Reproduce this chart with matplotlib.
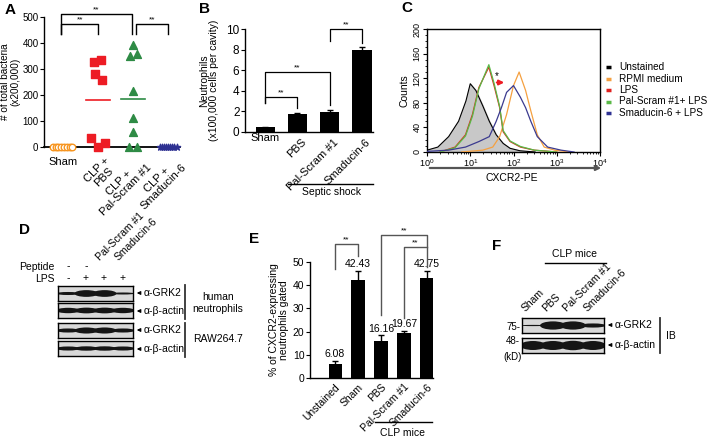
import matplotlib
matplotlib.use("Agg")
import matplotlib.pyplot as plt
import numpy as np
from matplotlib.patches import Ellipse

plt.rcParams['font.family'] = ['Liberation Sans', 'DejaVu Sans']
plt.rcParams['axes.linewidth'] = 1.0

W, H = 709, 447
fig = plt.figure(figsize=(W / 100, H / 100), dpi=100)


def axpx(x0, y0, x1, y1):
    return fig.add_axes([x0 / W, 1 - y1 / H, (x1 - x0) / W, (y1 - y0) / H])


# ---------------- data ----------------
# Panel A
a_groups = ["Sham", "CLP +\nPBS", "CLP +\nPal-Scram #1", "CLP +\nSmaducin-6"]
a_sham = [0, 0, 0, 0, 0, 0, 0, 0]
a_sham_dx = [-0.3, -0.22, -0.14, -0.06, 0.02, 0.1, 0.18, 0.26]
a_pbs = [327, 333, 282, 256, 35, 0, 15]
a_pbs_dx = [-0.11, 0.08, -0.1, 0.1, -0.21, 0.0, 0.2]
a_pal = [391, 349, 359, 215, 111, 58, 0, 0]
a_pal_dx = [0.0, -0.1, 0.1, 0.0, 0.0, 0.0, -0.12, 0.12]
a_sma = [0, 0, 0, 0, 0, 0, 0, 0, 0]
a_sma_dx = [-0.24, -0.18, -0.12, -0.06, 0.0, 0.06, 0.12, 0.18, 0.24]
a_pbs_mean = 180
a_pal_mean = 186

# Panel B
b_groups = ["Sham", "PBS", "Pal-Scram #1", "Smaducin-6"]
b_vals = [0.45, 1.7, 1.9, 8.0]
b_err = [0.08, 0.15, 0.25, 0.3]

# Panel C (log10 CXCR2-PE, counts)
c_unst_x = [0.0, 0.25, 0.5, 0.73, 0.9, 1.0, 1.13, 1.29, 1.44, 1.6, 1.76, 1.92, 2.15, 2.5]
c_unst_y = [3, 8, 25, 50, 83, 111, 100, 75, 50, 28, 14, 6, 2, 0]
c_lps_x = [0.3, 0.65, 0.89, 1.05, 1.2, 1.43, 1.55, 1.68, 1.76, 1.92, 2.16, 2.48, 3.0]
c_lps_y = [0, 8, 28, 61, 105, 138, 108, 72, 33, 17, 8, 3, 0]
c_pal_x = [0.3, 0.65, 0.89, 1.05, 1.2, 1.43, 1.55, 1.68, 1.76, 1.92, 2.16, 2.48, 3.0]
c_pal_y = [0, 7, 26, 58, 103, 142, 112, 74, 35, 18, 9, 3, 0]
c_rpmi_x = [0.8, 1.29, 1.52, 1.68, 1.84, 2.0, 2.13, 2.28, 2.4, 2.55, 2.71, 2.95, 3.3]
c_rpmi_y = [0, 3, 8, 25, 61, 108, 130, 100, 67, 28, 8, 3, 0]
c_sma_x = [0.0, 0.5, 0.89, 1.2, 1.44, 1.6, 1.72, 1.84, 2.0, 2.16, 2.28, 2.4, 2.55, 2.79, 3.1, 3.4]
c_sma_y = [1, 3, 8, 17, 25, 50, 72, 97, 108, 89, 72, 50, 25, 8, 3, 0]
c_legend = ["Unstained", "RPMI medium", "LPS", "Pal-Scram #1+ LPS", "Smaducin-6 + LPS"]

# Panel D (relative band intensity per lane)
d_grk2_h = [0.45, 1.0, 1.0, 0.3]
d_actin_h = [0.8, 0.85, 0.85, 0.8]
d_grk2_r = [0.6, 0.9, 0.9, 0.6]
d_actin_r = [0.6, 0.65, 0.65, 0.6]
d_peptide = ["-", "-"]
d_lps = ["-", "+", "+", "+"]

# Panel E
e_groups = ["Unstained", "Sham", "PBS", "Pal-Scram #1", "Smaducin-6"]
e_vals = [6.08, 42.43, 16.16, 19.67, 42.75]
e_bar = [6.08, 42.43, 16.16, 19.2, 43.3]
e_err = [1.3, 3.6, 2.2, 1.0, 3.0]

# Panel F
f_grk2 = [0.15, 1.0, 1.0, 0.5]
f_actin = [1.0, 1.0, 1.05, 1.0]
f_groups = ["Sham", "PBS", "Pal-Scram #1", "Smaducin-6"]

ORANGE = "#f7941d"
RED = "#ed1c24"
GREEN = "#2e8b45"
NAVY = "#2e3192"
FS = 7

# ---------------- Panel A ----------------
axA = axpx(44, 17, 180, 147)
axA.set_xlim(-0.55, 3.34)
axA.set_ylim(0, 500)
x = np.arange(4)
axA.scatter(x[0] + np.array(a_sham_dx), a_sham, s=22, facecolors="white",
            edgecolors=ORANGE, linewidths=1.0, zorder=3, clip_on=False)
axA.scatter(x[1] + np.array(a_pbs_dx), a_pbs, s=28, marker="s", color=RED, zorder=3, clip_on=False)
axA.scatter(x[2] + np.array(a_pal_dx), a_pal, s=32, marker="^", color=GREEN, zorder=3, clip_on=False)
axA.scatter(x[3] + np.array(a_sma_dx), a_sma, s=22, marker="*", color=NAVY, zorder=3, clip_on=False)
axA.plot([x[1] - 0.35, x[1] + 0.35], [a_pbs_mean] * 2, color=RED, lw=1.2)
axA.plot([x[2] - 0.35, x[2] + 0.35], [a_pal_mean] * 2, color=GREEN, lw=1.2)
for xa, xb, yt, yb in [(-0.06, 1.0, 474, 433), (-0.06, 1.97, 512, 433), (2.09, 3.0, 474, 433)]:
    axA.plot([xa, xa, xb, xb], [yb, yt, yt, yb], color="black", lw=1.0, clip_on=False)
    axA.text((xa + xb) / 2, yt + 2, "**", ha="center", va="bottom", fontsize=6, clip_on=False)
axA.spines["top"].set_visible(False)
axA.spines["right"].set_visible(False)
axA.spines["bottom"].set_linewidth(1.3)
axA.set_yticks([0, 100, 200, 300, 400, 500])
axA.set_xticks([])
axA.tick_params(axis="y", labelsize=7, length=3, pad=1)
axA.set_ylabel("# of total bacteria\n(x200,000)", fontsize=7.2, linespacing=1.0)
axA.yaxis.set_label_coords(-0.175, 0.5)

# ---------------- Panel B ----------------
axB = axpx(245, 29, 373, 132)
axB.set_xlim(-0.62, 3.34)
axB.set_ylim(0, 10)
xb = np.arange(4)
axB.bar(xb, b_vals, width=0.59, color="black", yerr=b_err, capsize=2.5,
        error_kw=dict(elinewidth=1, capthick=1))
for xa, xbb, yt, ya, yb2 in [(0, 1, 3.4, 2.8, 2.3), (0, 2, 5.8, 2.8, 2.6), (2, 3, 10.0, 8.8, 8.6)]:
    axB.plot([xa, xa, xbb, xbb], [ya, yt, yt, yb2], color="black", lw=0.9, clip_on=False)
    axB.text((xa + xbb) / 2, yt + 0.1, "**", ha="center", va="bottom", fontsize=6, clip_on=False)
axB.spines["top"].set_visible(False)
axB.spines["right"].set_visible(False)
axB.set_yticks([0, 2, 4, 6, 8, 10])
axB.set_xticks([])
axB.tick_params(axis="y", labelsize=8.5, length=3, pad=1)
axB.set_ylabel("Neutrophils\n(x100,000 cells per cavity)", fontsize=FS + 0.5, linespacing=1.0)
axB.yaxis.set_label_coords(-0.2, 0.5)

# ---------------- Panel C ----------------
axC = axpx(427, 29, 600, 152)
axC.set_xscale("log")
axC.set_xlim(1, 1e4)
axC.set_ylim(0, 200)
tx = lambda v: 10 ** np.array(v)
axC.fill_between(tx(c_unst_x), c_unst_y, color="#c8c8c8", zorder=1)
axC.plot(tx(c_unst_x), c_unst_y, color="black", lw=0.8, zorder=2)
axC.plot(tx(c_rpmi_x), c_rpmi_y, color="#f5a040", lw=0.9, zorder=3)
axC.plot(tx(c_lps_x), c_lps_y, color="#d9301e", lw=0.9, zorder=3)
axC.plot(tx(c_pal_x), c_pal_y, color="#5ab947", lw=0.9, zorder=3)
axC.plot(tx(c_sma_x), c_sma_y, color="#3b3a8f", lw=0.9, zorder=4)
axC.annotate("", xy=(10 ** 1.85, 113), xytext=(10 ** 1.55, 113),
             arrowprops=dict(arrowstyle="-|>", color=RED, lw=1.5, mutation_scale=7))
axC.text(10 ** 1.62, 116, "*", fontsize=7, ha="center", va="bottom")
axC.set_yticks([0, 40, 80, 120, 160, 200])
axC.set_yticks(np.arange(0, 201, 10), minor=True)
axC.tick_params(axis="y", labelsize=6.5, length=3, pad=1, labelrotation=90)
axC.tick_params(axis="y", which="minor", length=1.5)
for lbl in axC.get_yticklabels():
    lbl.set_va("center")
axC.tick_params(axis="x", labelsize=6.5, length=3, pad=1)
axC.tick_params(axis="x", which="minor", length=1.5)
axC.set_ylabel("Counts", fontsize=FS + 0.5, labelpad=2)

# ---------------- blots ----------------
def blot(x0, y0, x1, y1, vals, thick=0.45, color="#151515"):
    ax = axpx(x0, y0, x1, y1)
    n = len(vals)
    ax.set_xlim(-0.55, n - 0.45)
    ax.set_ylim(0, 1)
    ax.set_facecolor("#d8d8d8")
    for i, v in enumerate(vals):
        ax.add_patch(Ellipse((i, 0.5), 1.3, thick * v, color=color, lw=0))
    ax.set_xticks([])
    ax.set_yticks([])
    for s in ax.spines.values():
        s.set_linewidth(1.0)
    return ax

blot(58, 286, 133, 301, d_grk2_h)
blot(58, 303, 133, 318, d_actin_h)
blot(58, 323, 133, 338, d_grk2_r)
blot(58, 341, 133, 356, d_actin_r)

# ---------------- Panel E ----------------
axE = axpx(310, 262, 433, 378)
xe = np.arange(5)
axE.set_xlim(-1.09, 4.26)
axE.set_ylim(0, 50)
axE.bar(xe, e_bar, width=0.57, color="black", yerr=e_err, capsize=2.5,
        error_kw=dict(elinewidth=1, capthick=1))
for i, v in enumerate(e_vals):
    axE.text(xe[i], e_bar[i] + e_err[i] + 0.8, f"{v:.2f}", ha="center", va="bottom", fontsize=FS + 0.5)
for xa, xbb, yt, ya, yb2 in [(0, 1, 57.8, 47, 52.5), (2, 4, 61.6, 27, 48), (3, 4, 56.5, 26, 56.5)]:
    axE.plot([xa, xa, xbb, xbb], [ya, yt, yt, yb2], color="#555555", lw=1.0, clip_on=False)
    axE.text((xa + xbb) / 2, yt + 0.3, "**", ha="center", va="bottom", fontsize=6, clip_on=False)
axE.spines["top"].set_visible(False)
axE.spines["right"].set_visible(False)
axE.set_yticks([0, 10, 20, 30, 40, 50])
axE.set_xticks(xe)
axE.set_xticklabels(e_groups, rotation=45, ha="right", rotation_mode="anchor", fontsize=FS + 0.5)
axE.tick_params(axis="y", labelsize=FS + 0.5, length=3, pad=1)
axE.tick_params(axis="x", length=0, pad=3)
axE.set_ylabel("% of CXCR2-expressing\nneutrophils gated", fontsize=FS + 0.5, labelpad=3, linespacing=1.0)

# ---------------- Panel F (blots) ----------------
blot(522, 318, 604, 333, f_grk2, thick=0.55)
blot(522, 338, 604, 353, f_actin, thick=0.6)

# ---------------- overlay annotations (pixel coords) ----------------
ov = fig.add_axes([0, 0, 1, 1])
ov.set_xlim(0, W)
ov.set_ylim(H, 0)
ov.axis("off")
ov.patch.set_alpha(0)

def T(x, y, s, **kw):
    kw.setdefault("fontsize", FS + 0.5)
    ov.text(x, y, s, **kw)

for x0, y0, s in [(5, 10, "A"), (199, 9, "B"), (401, 8, "C"), (19, 230, "D"), (249, 239, "E"), (492, 246, "F")]:
    T(x0, y0, s, fontsize=11, fontweight="bold", va="center", ha="left")

# A x labels
T(63, 162, a_groups[0], ha="center", va="center", fontsize=8)
for i, px in zip([1, 2, 3], [104, 139, 174]):
    T(px, 155, a_groups[i], rotation=45, ha="right", va="top", rotation_mode="anchor",
      linespacing=1.0, multialignment="center", fontsize=8)

# B x labels
T(265, 138, "Sham", ha="center", va="center", fontsize=FS + 1)
for i, px in zip([1, 2, 3], [301, 333, 365]):
    T(px, 137, b_groups[i], rotation=45, ha="right", va="top", rotation_mode="anchor", fontsize=FS + 1)
ov.plot([288, 373], [184, 184], color="black", lw=1.0)
T(331, 192, "Septic shock", ha="center", va="center")

# C x axis arrow + label + legend
ov.annotate("", xy=(604, 168), xytext=(427, 168),
            arrowprops=dict(arrowstyle="-|>", color="#555555", lw=1.6, mutation_scale=7))
T(512, 178, "CXCR2-PE", ha="center", va="center")
leg_cols = ["black", "#f5a040", "#e0201e", "#5ab947", "#2e3192"]
for k, (lab, col) in enumerate(zip(c_legend, leg_cols)):
    yy = 67 + k * 11.5
    ov.plot([606, 611], [yy, yy], color=col, lw=2.5, solid_capstyle="butt")
    T(619, yy, lab, ha="left", va="center", fontsize=7.2)

# D labels
T(55, 267, "Peptide", ha="right", va="center")
T(55, 279, "LPS", ha="right", va="center")
lane_d = [68, 86, 104, 123]
for i, s in enumerate(d_peptide):
    T(lane_d[i], 266, s, ha="center", va="center")
for i, s in enumerate(d_lps):
    T(lane_d[i], 278, s, ha="center", va="center")
T(lane_d[2] - 3, 262, "Pal-Scram #1", rotation=45, ha="left", va="bottom", rotation_mode="anchor")
T(lane_d[3] - 3, 262, "Smaducin-6", rotation=45, ha="left", va="bottom", rotation_mode="anchor")

def arrow_label(xa, y, s):
    ov.annotate("", xy=(xa, y), xytext=(xa + 9, y),
                arrowprops=dict(arrowstyle="-|>", color="black", lw=0.8, mutation_scale=5))
    T(xa + 10, y, s, ha="left", va="center")

arrow_label(134, 293, "α-GRK2")
arrow_label(134, 311, "α-β-actin")
arrow_label(134, 330, "α-GRK2")
arrow_label(134, 349, "α-β-actin")
ov.plot([185, 185], [285, 319], color="#333333", lw=1.3)
ov.plot([185, 185], [323, 357], color="#333333", lw=1.3)
T(218, 297, "human", ha="center", va="center")
T(218, 309, "neutrophils", ha="center", va="center")
T(218, 339, "RAW264.7", ha="center", va="center")

# E group line
ov.plot([375, 432], [422, 422], color="black", lw=1.0)
T(403, 433, "CLP mice", ha="center", va="center")

# F labels
ov.plot([545, 606], [263, 263], color="black", lw=1.0)
T(575, 254, "CLP mice", ha="center", va="center")
lane_f = [532, 553, 573, 594]
for i, s in enumerate(f_groups):
    T(lane_f[i] - 5, 313, s, rotation=45, ha="left", va="bottom", rotation_mode="anchor")
T(520, 327, "75-", ha="right", va="center", fontsize=FS)
T(520, 341, "48-", ha="right", va="center", fontsize=FS)
T(513, 357, "(kD)", ha="center", va="center", fontsize=FS)
arrow_label(605, 325, "α-GRK2")
arrow_label(605, 345, "α-β-actin")
ov.plot([660, 660], [318, 353], color="#333333", lw=1.3)
T(666, 336, "IB", ha="left", va="center")

fig.savefig("out.png", dpi=100)
